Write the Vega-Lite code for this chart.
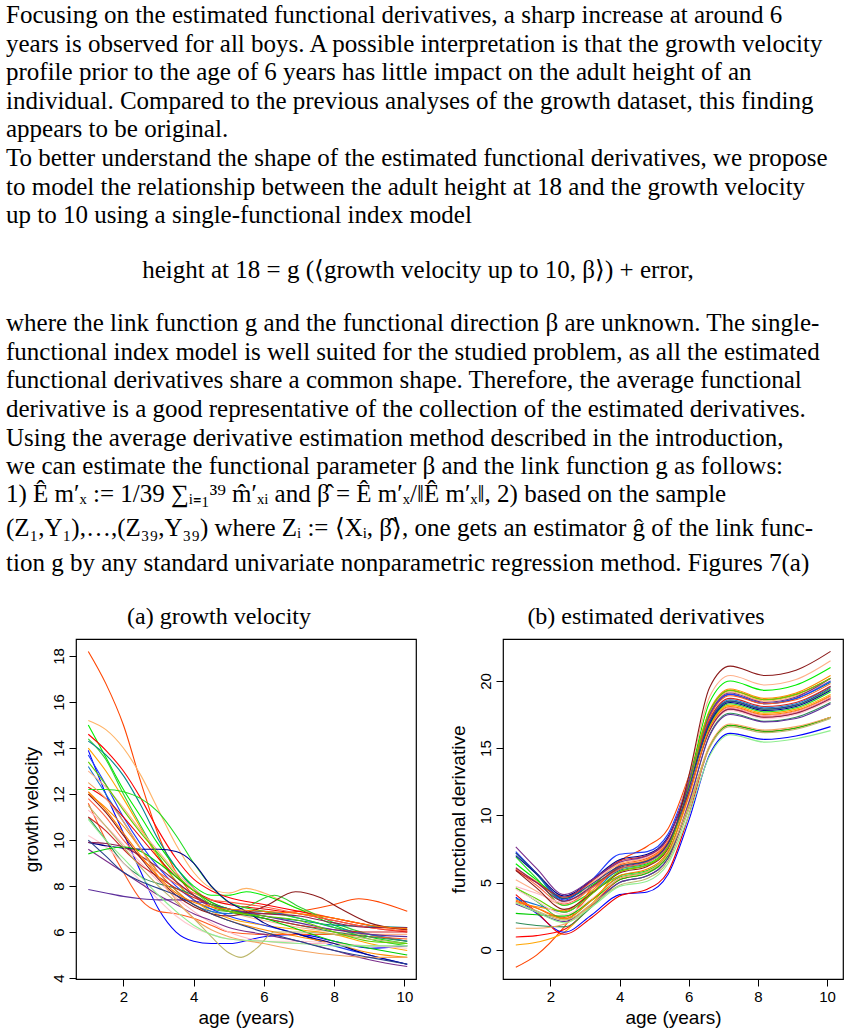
{
  "$schema": "https://vega.github.io/schema/vega-lite/v6.json",
  "background": "white",
  "padding": {"left": 6, "top": 0, "right": 0, "bottom": 0},
  "config": {
    "view": {"stroke": null},
    "axis": {"domain": false, "grid": false, "tickColor": "black", "tickSize": 7, "tickWidth": 1, "labelFont": "Liberation Sans", "labelFontSize": 15, "labelColor": "black", "titleFont": "Liberation Sans", "titleFontSize": 19, "titleFontWeight": "normal", "titleColor": "black"},
    "axisX": {"labelPadding": 3, "titlePadding": 4, "labelAngle": 0, "labelFlush": false},
    "axisY": {"labelAngle": -90, "labelAlign": "center", "labelBaseline": "bottom", "labelPadding": 3, "titlePadding": 10, "labelFlush": false},
    "title": {"font": "Liberation Serif", "fontSize": 24, "fontWeight": "normal", "color": "black", "anchor": "middle", "frame": "bounds", "offset": 10}
  },
  "datasets": {
    "page": [
      {"line": 0, "t": "Focusing on the estimated functional derivatives, a sharp increase at around 6"},
      {"line": 1, "t": "years is observed for all boys. A possible interpretation is that the growth velocity"},
      {"line": 2, "t": "profile prior to the age of 6 years has little impact on the adult height of an"},
      {"line": 3, "t": "individual. Compared to the previous analyses of the growth dataset, this finding"},
      {"line": 4, "t": "appears to be original."},
      {"line": 5, "t": "To better understand the shape of the estimated functional derivatives, we propose"},
      {"line": 6, "t": "to model the relationship between the adult height at 18 and the growth velocity"},
      {"line": 7, "t": "up to 10 using a single-functional index model"},
      {"line": 10.77, "t": "where the link function g and the functional direction β are unknown. The single-"},
      {"line": 11.78, "t": "functional index model is well suited for the studied problem, as all the estimated"},
      {"line": 12.76, "t": "functional derivatives share a common shape. Therefore, the average functional"},
      {"line": 13.78, "t": "derivative is a good representative of the collection of the estimated derivatives."},
      {"line": 14.79, "t": "Using the average derivative estimation method described in the introduction,"},
      {"line": 15.77, "t": "we can estimate the functional parameter β and the link function g as follows:"},
      {"line": 16.75, "t": "1) Ê m′ₓ := 1/39 ∑ᵢ₌₁³⁹ m̂′ₓᵢ and β̂ = Ê m′ₓ/‖Ê m′ₓ‖, 2) based on the sample"},
      {"line": 17.94, "t": "(Z₁,Y₁),…,(Z₃₉,Y₃₉) where Zᵢ := ⟨Xᵢ, β̂⟩, one gets an estimator ĝ of the link func-"},
      {"line": 19.16, "t": "tion g by any standard univariate nonparametric regression method. Figures 7(a)"}
    ],
    "eq": [
      {"line": 8.92, "t": "height at 18  =  g (⟨growth velocity up to 10, β⟩)  +  error,"}
    ],
    "gv": [
      {"c":1,"x":1,"y":18.2},{"c":1,"x":1.5,"y":16.8},{"c":1,"x":2,"y":15.0},{"c":1,"x":2.5,"y":12.5},{"c":1,"x":3,"y":10.2},{"c":1,"x":3.5,"y":8.6},{"c":1,"x":4,"y":7.6},{"c":1,"x":4.5,"y":7.1},{"c":1,"x":5,"y":6.9},{"c":1,"x":6,"y":6.8},{"c":1,"x":7,"y":6.9},{"c":1,"x":8,"y":7.2},{"c":1,"x":8.7,"y":7.45},{"c":1,"x":9.3,"y":7.3},{"c":1,"x":10.08,"y":6.9},
      {"c":2,"x":1,"y":15.2},{"c":2,"x":1.5,"y":14.8},{"c":2,"x":2,"y":14.0},{"c":2,"x":2.5,"y":12.8},{"c":2,"x":3,"y":11.3},{"c":2,"x":3.5,"y":9.8},{"c":2,"x":4,"y":8.6},{"c":2,"x":4.5,"y":7.9},{"c":2,"x":5,"y":7.7},{"c":2,"x":5.5,"y":7.9},{"c":2,"x":6,"y":7.7},{"c":2,"x":7,"y":7.0},{"c":2,"x":8,"y":6.6},{"c":2,"x":9,"y":6.3},{"c":2,"x":10.08,"y":6.0},
      {"c":3,"x":1,"y":15.0},{"c":3,"x":1.5,"y":13.6},{"c":3,"x":2,"y":12.2},{"c":3,"x":2.5,"y":11.0},{"c":3,"x":3,"y":9.8},{"c":3,"x":3.5,"y":8.8},{"c":3,"x":4,"y":8.0},{"c":3,"x":4.5,"y":7.6},{"c":3,"x":5,"y":7.6},{"c":3,"x":5.5,"y":7.75},{"c":3,"x":6,"y":7.6},{"c":3,"x":7,"y":7.0},{"c":3,"x":8,"y":6.3},{"c":3,"x":9,"y":5.8},{"c":3,"x":10.08,"y":5.5},
      {"c":4,"x":1,"y":14.6},{"c":4,"x":1.5,"y":13.9},{"c":4,"x":2,"y":13.0},{"c":4,"x":2.5,"y":11.8},{"c":4,"x":3,"y":10.4},{"c":4,"x":3.5,"y":9.2},{"c":4,"x":4,"y":8.3},{"c":4,"x":4.5,"y":7.8},{"c":4,"x":5,"y":7.5},{"c":4,"x":6,"y":7.2},{"c":4,"x":7,"y":6.9},{"c":4,"x":8,"y":6.6},{"c":4,"x":9,"y":6.3},{"c":4,"x":10.08,"y":6.1},
      {"c":5,"x":1,"y":14.4},{"c":5,"x":1.5,"y":13.5},{"c":5,"x":2,"y":12.0},{"c":5,"x":2.5,"y":10.6},{"c":5,"x":3,"y":9.3},{"c":5,"x":3.5,"y":8.2},{"c":5,"x":4,"y":7.4},{"c":5,"x":4.5,"y":7.0},{"c":5,"x":5,"y":6.9},{"c":5,"x":5.5,"y":7.1},{"c":5,"x":6.3,"y":7.6},{"c":5,"x":7,"y":7.1},{"c":5,"x":8,"y":6.4},{"c":5,"x":9,"y":5.9},{"c":5,"x":10.08,"y":5.6},
      {"c":6,"x":1,"y":14.3},{"c":6,"x":1.5,"y":13.7},{"c":6,"x":2,"y":12.8},{"c":6,"x":2.5,"y":11.5},{"c":6,"x":3,"y":10.0},{"c":6,"x":3.5,"y":8.8},{"c":6,"x":4,"y":7.9},{"c":6,"x":4.5,"y":7.3},{"c":6,"x":5,"y":7.0},{"c":6,"x":6,"y":6.7},{"c":6,"x":7,"y":6.5},{"c":6,"x":8,"y":6.3},{"c":6,"x":9,"y":6.25},{"c":6,"x":10.08,"y":6.2},
      {"c":7,"x":1,"y":14.0},{"c":7,"x":1.5,"y":13.0},{"c":7,"x":2,"y":11.8},{"c":7,"x":2.5,"y":10.5},{"c":7,"x":3,"y":9.2},{"c":7,"x":3.5,"y":8.2},{"c":7,"x":4,"y":7.4},{"c":7,"x":4.5,"y":6.9},{"c":7,"x":5,"y":6.6},{"c":7,"x":6,"y":6.3},{"c":7,"x":7,"y":6.1},{"c":7,"x":8,"y":5.9},{"c":7,"x":9,"y":5.5},{"c":7,"x":10.08,"y":5.2},
      {"c":8,"x":1,"y":13.9},{"c":8,"x":1.5,"y":12.0},{"c":8,"x":2,"y":10.3},{"c":8,"x":2.5,"y":8.6},{"c":8,"x":3,"y":7.0},{"c":8,"x":3.5,"y":6.0},{"c":8,"x":4,"y":5.6},{"c":8,"x":4.5,"y":5.5},{"c":8,"x":5,"y":5.5},{"c":8,"x":6,"y":5.8},{"c":8,"x":7,"y":5.9},{"c":8,"x":8,"y":5.6},{"c":8,"x":9,"y":5.3},{"c":8,"x":10.08,"y":5.4},
      {"c":9,"x":1,"y":13.7},{"c":9,"x":1.5,"y":12.4},{"c":9,"x":2,"y":11.0},{"c":9,"x":2.5,"y":9.8},{"c":9,"x":3,"y":8.8},{"c":9,"x":3.5,"y":8.0},{"c":9,"x":4,"y":7.4},{"c":9,"x":4.5,"y":7.0},{"c":9,"x":5,"y":6.7},{"c":9,"x":6,"y":6.3},{"c":9,"x":7,"y":5.9},{"c":9,"x":8,"y":5.4},{"c":9,"x":9,"y":5.0},{"c":9,"x":10.08,"y":4.6},
      {"c":10,"x":1,"y":13.2},{"c":10,"x":1.5,"y":12.0},{"c":10,"x":2,"y":10.8},{"c":10,"x":2.5,"y":9.6},{"c":10,"x":3,"y":8.6},{"c":10,"x":3.5,"y":7.8},{"c":10,"x":4,"y":7.2},{"c":10,"x":4.5,"y":6.9},{"c":10,"x":5,"y":6.8},{"c":10,"x":6,"y":6.9},{"c":10,"x":7,"y":6.6},{"c":10,"x":8,"y":6.2},{"c":10,"x":9,"y":5.9},{"c":10,"x":10.08,"y":5.6},
      {"c":11,"x":1,"y":13.0},{"c":11,"x":1.5,"y":12.3},{"c":11,"x":2,"y":11.4},{"c":11,"x":2.5,"y":10.4},{"c":11,"x":3,"y":9.5},{"c":11,"x":3.5,"y":8.6},{"c":11,"x":4,"y":7.9},{"c":11,"x":4.5,"y":7.3},{"c":11,"x":5,"y":6.9},{"c":11,"x":6,"y":6.5},{"c":11,"x":7,"y":6.2},{"c":11,"x":8,"y":6.0},{"c":11,"x":9,"y":5.9},{"c":11,"x":10.08,"y":5.9},
      {"c":12,"x":1,"y":12.3},{"c":12,"x":1.5,"y":11.8},{"c":12,"x":2,"y":11.0},{"c":12,"x":2.5,"y":10.1},{"c":12,"x":3,"y":9.2},{"c":12,"x":3.5,"y":8.4},{"c":12,"x":4,"y":7.8},{"c":12,"x":4.5,"y":7.4},{"c":12,"x":5,"y":7.2},{"c":12,"x":6,"y":7.0},{"c":12,"x":7,"y":6.8},{"c":12,"x":8,"y":6.5},{"c":12,"x":9,"y":6.2},{"c":12,"x":10.08,"y":6.0},
      {"c":13,"x":1,"y":12.2},{"c":13,"x":1.5,"y":12.2},{"c":13,"x":2,"y":12.1},{"c":13,"x":2.5,"y":11.8},{"c":13,"x":3,"y":11.2},{"c":13,"x":3.5,"y":10.2},{"c":13,"x":4,"y":9.0},{"c":13,"x":4.5,"y":8.0},{"c":13,"x":5,"y":7.3},{"c":13,"x":6,"y":6.9},{"c":13,"x":7,"y":6.6},{"c":13,"x":8,"y":6.2},{"c":13,"x":9,"y":5.7},{"c":13,"x":10.08,"y":5.4},
      {"c":14,"x":1,"y":12.0},{"c":14,"x":1.5,"y":11.4},{"c":14,"x":2,"y":10.6},{"c":14,"x":2.5,"y":9.6},{"c":14,"x":3,"y":8.6},{"c":14,"x":3.5,"y":7.8},{"c":14,"x":4,"y":7.2},{"c":14,"x":4.5,"y":6.8},{"c":14,"x":5,"y":6.5},{"c":14,"x":6,"y":6.1},{"c":14,"x":7,"y":5.8},{"c":14,"x":8,"y":5.5},{"c":14,"x":9,"y":5.1},{"c":14,"x":10.08,"y":4.9},
      {"c":15,"x":1,"y":11.8},{"c":15,"x":1.5,"y":11.0},{"c":15,"x":2,"y":10.0},{"c":15,"x":2.5,"y":9.2},{"c":15,"x":3,"y":8.6},{"c":15,"x":3.5,"y":8.1},{"c":15,"x":4,"y":7.7},{"c":15,"x":4.5,"y":7.4},{"c":15,"x":5,"y":7.3},{"c":15,"x":6,"y":7.1},{"c":15,"x":7,"y":6.8},{"c":15,"x":8,"y":6.5},{"c":15,"x":9,"y":6.2},{"c":15,"x":10.08,"y":6.05},
      {"c":16,"x":1,"y":11.6},{"c":16,"x":1.5,"y":10.0},{"c":16,"x":2,"y":8.6},{"c":16,"x":2.5,"y":7.4},{"c":16,"x":3,"y":6.9},{"c":16,"x":3.5,"y":6.8},{"c":16,"x":4,"y":6.6},{"c":16,"x":4.5,"y":6.3},{"c":16,"x":5,"y":6.0},{"c":16,"x":6,"y":5.9},{"c":16,"x":7,"y":5.9},{"c":16,"x":8,"y":5.9},{"c":16,"x":9,"y":5.8},{"c":16,"x":10.08,"y":5.7},
      {"c":17,"x":1,"y":11.3},{"c":17,"x":1.5,"y":10.6},{"c":17,"x":2,"y":9.8},{"c":17,"x":2.5,"y":9.0},{"c":17,"x":3,"y":8.2},{"c":17,"x":3.5,"y":7.5},{"c":17,"x":4,"y":6.9},{"c":17,"x":4.5,"y":6.4},{"c":17,"x":5,"y":6.0},{"c":17,"x":6,"y":5.6},{"c":17,"x":7,"y":5.5},{"c":17,"x":8,"y":5.5},{"c":17,"x":9,"y":5.4},{"c":17,"x":10.08,"y":5.4},
      {"c":18,"x":1,"y":11.0},{"c":18,"x":1.5,"y":10.0},{"c":18,"x":2,"y":9.0},{"c":18,"x":2.5,"y":8.4},{"c":18,"x":3,"y":8.1},{"c":18,"x":3.5,"y":7.9},{"c":18,"x":4,"y":7.6},{"c":18,"x":4.5,"y":7.2},{"c":18,"x":5,"y":6.9},{"c":18,"x":6,"y":6.6},{"c":18,"x":7,"y":6.3},{"c":18,"x":8,"y":6.0},{"c":18,"x":9,"y":5.8},{"c":18,"x":10.08,"y":5.6},
      {"c":19,"x":1,"y":11.0},{"c":19,"x":1.5,"y":10.4},{"c":19,"x":2,"y":9.6},{"c":19,"x":2.5,"y":8.9},{"c":19,"x":3,"y":8.4},{"c":19,"x":3.5,"y":7.9},{"c":19,"x":4,"y":7.5},{"c":19,"x":4.5,"y":7.2},{"c":19,"x":5,"y":7.0},{"c":19,"x":6,"y":6.6},{"c":19,"x":7,"y":6.3},{"c":19,"x":8,"y":6.1},{"c":19,"x":9,"y":6.0},{"c":19,"x":10.08,"y":6.0},
      {"c":20,"x":1,"y":10.2},{"c":20,"x":1.5,"y":9.7},{"c":20,"x":2,"y":9.0},{"c":20,"x":2.5,"y":8.2},{"c":20,"x":3,"y":7.4},{"c":20,"x":3.5,"y":6.7},{"c":20,"x":4,"y":6.2},{"c":20,"x":4.5,"y":5.9},{"c":20,"x":5,"y":5.7},{"c":20,"x":6,"y":5.6},{"c":20,"x":7,"y":5.6},{"c":20,"x":8,"y":5.5},{"c":20,"x":9,"y":5.4},{"c":20,"x":10.08,"y":5.3},
      {"c":21,"x":1,"y":9.9},{"c":21,"x":1.5,"y":9.75},{"c":21,"x":2,"y":9.65},{"c":21,"x":2.5,"y":9.6},{"c":21,"x":3,"y":9.6},{"c":21,"x":3.5,"y":9.5},{"c":21,"x":4,"y":9.0},{"c":21,"x":4.5,"y":8.0},{"c":21,"x":5,"y":7.3},{"c":21,"x":5.5,"y":6.9},{"c":21,"x":6,"y":6.4},{"c":21,"x":7,"y":5.9},{"c":21,"x":8,"y":5.5},{"c":21,"x":9,"y":5.0},{"c":21,"x":10.08,"y":4.6},
      {"c":22,"x":1,"y":9.9},{"c":22,"x":1.5,"y":9.85},{"c":22,"x":2,"y":9.7},{"c":22,"x":2.5,"y":9.3},{"c":22,"x":3,"y":8.8},{"c":22,"x":3.5,"y":8.2},{"c":22,"x":4,"y":7.6},{"c":22,"x":4.5,"y":7.2},{"c":22,"x":5,"y":7.0},{"c":22,"x":6,"y":6.8},{"c":22,"x":7,"y":6.7},{"c":22,"x":8,"y":6.4},{"c":22,"x":9,"y":6.2},{"c":22,"x":10.08,"y":6.2},
      {"c":23,"x":1,"y":9.6},{"c":23,"x":1.5,"y":9.1},{"c":23,"x":2,"y":8.6},{"c":23,"x":2.5,"y":8.1},{"c":23,"x":3,"y":7.6},{"c":23,"x":3.5,"y":7.2},{"c":23,"x":4,"y":6.8},{"c":23,"x":4.5,"y":6.5},{"c":23,"x":5,"y":6.2},{"c":23,"x":6,"y":5.9},{"c":23,"x":7,"y":5.6},{"c":23,"x":8,"y":5.2},{"c":23,"x":9,"y":4.8},{"c":23,"x":10.08,"y":4.5},
      {"c":24,"x":1,"y":9.4},{"c":24,"x":1.5,"y":9.6},{"c":24,"x":2,"y":9.7},{"c":24,"x":2.5,"y":9.5},{"c":24,"x":3,"y":9.0},{"c":24,"x":3.5,"y":8.4},{"c":24,"x":4,"y":7.8},{"c":24,"x":4.5,"y":7.3},{"c":24,"x":5,"y":7.0},{"c":24,"x":6,"y":6.6},{"c":24,"x":7,"y":6.1},{"c":24,"x":8,"y":5.6},{"c":24,"x":9,"y":5.3},{"c":24,"x":10.08,"y":5.0},
      {"c":25,"x":1,"y":7.85},{"c":25,"x":1.5,"y":7.7},{"c":25,"x":2,"y":7.55},{"c":25,"x":2.5,"y":7.45},{"c":25,"x":3,"y":7.4},{"c":25,"x":3.5,"y":7.4},{"c":25,"x":4,"y":7.35},{"c":25,"x":4.5,"y":7.2},{"c":25,"x":5,"y":7.0},{"c":25,"x":6,"y":6.7},{"c":25,"x":7,"y":6.4},{"c":25,"x":8,"y":6.1},{"c":25,"x":9,"y":5.9},{"c":25,"x":10.08,"y":5.8},
      {"c":26,"x":1,"y":11.5},{"c":26,"x":1.5,"y":10.6},{"c":26,"x":2,"y":9.7},{"c":26,"x":2.5,"y":8.8},{"c":26,"x":3,"y":8.0},{"c":26,"x":3.5,"y":7.3},{"c":26,"x":4,"y":6.6},{"c":26,"x":4.5,"y":5.8},{"c":26,"x":5,"y":5.1},{"c":26,"x":5.35,"y":4.9},{"c":26,"x":5.8,"y":5.3},{"c":26,"x":6.3,"y":6.0},{"c":26,"x":7,"y":6.0},{"c":26,"x":8,"y":5.9},{"c":26,"x":9,"y":5.7},{"c":26,"x":10.08,"y":5.5},
      {"c":27,"x":1,"y":12.0},{"c":27,"x":1.5,"y":11.2},{"c":27,"x":2,"y":10.2},{"c":27,"x":2.5,"y":9.2},{"c":27,"x":3,"y":8.3},{"c":27,"x":3.5,"y":7.6},{"c":27,"x":4,"y":7.1},{"c":27,"x":4.5,"y":6.8},{"c":27,"x":5,"y":6.7},{"c":27,"x":6,"y":7.1},{"c":27,"x":6.9,"y":7.75},{"c":27,"x":7.6,"y":7.5},{"c":27,"x":8.2,"y":7.0},{"c":27,"x":9,"y":6.4},{"c":27,"x":10.08,"y":6.1},
      {"c":28,"x":1,"y":12.5},{"c":28,"x":1.5,"y":11.8},{"c":28,"x":2,"y":10.8},{"c":28,"x":2.5,"y":9.6},{"c":28,"x":3,"y":8.4},{"c":28,"x":3.5,"y":7.4},{"c":28,"x":4,"y":6.6},{"c":28,"x":4.5,"y":6.1},{"c":28,"x":5,"y":5.8},{"c":28,"x":6,"y":5.5},{"c":28,"x":7,"y":5.2},{"c":28,"x":8,"y":5.0},{"c":28,"x":9,"y":4.9},{"c":28,"x":10.08,"y":4.9},
      {"c":29,"x":1,"y":10.9},{"c":29,"x":1.5,"y":10.0},{"c":29,"x":2,"y":9.2},{"c":29,"x":2.5,"y":8.4},{"c":29,"x":3,"y":7.6},{"c":29,"x":3.5,"y":6.9},{"c":29,"x":4,"y":6.3},{"c":29,"x":4.5,"y":5.9},{"c":29,"x":5,"y":5.7},{"c":29,"x":6,"y":5.6},{"c":29,"x":7,"y":5.5},{"c":29,"x":8,"y":5.4},{"c":29,"x":9,"y":5.4},{"c":29,"x":10.08,"y":5.4},
      {"c":30,"x":1,"y":12.1},{"c":30,"x":1.5,"y":11.3},{"c":30,"x":2,"y":10.3},{"c":30,"x":2.5,"y":9.3},{"c":30,"x":3,"y":8.4},{"c":30,"x":3.5,"y":7.7},{"c":30,"x":4,"y":7.3},{"c":30,"x":4.5,"y":7.1},{"c":30,"x":5,"y":7.0},{"c":30,"x":6,"y":6.9},{"c":30,"x":7,"y":6.8},{"c":30,"x":8,"y":6.6},{"c":30,"x":9,"y":6.3},{"c":30,"x":10.08,"y":6.15},
      {"c":31,"x":1,"y":13.4},{"c":31,"x":1.5,"y":12.4},{"c":31,"x":2,"y":11.3},{"c":31,"x":2.5,"y":10.3},{"c":31,"x":3,"y":9.4},{"c":31,"x":3.5,"y":8.5},{"c":31,"x":4,"y":7.8},{"c":31,"x":4.5,"y":7.2},{"c":31,"x":5,"y":6.9},{"c":31,"x":6,"y":6.7},{"c":31,"x":7,"y":6.5},{"c":31,"x":8,"y":6.0},{"c":31,"x":9,"y":5.6},{"c":31,"x":10.08,"y":5.5},
      {"c":32,"x":1,"y":10.0},{"c":32,"x":1.5,"y":9.3},{"c":32,"x":2,"y":8.6},{"c":32,"x":2.5,"y":8.2},{"c":32,"x":3,"y":7.9},{"c":32,"x":3.5,"y":7.6},{"c":32,"x":4,"y":7.2},{"c":32,"x":4.5,"y":6.8},{"c":32,"x":5,"y":6.5},{"c":32,"x":6,"y":6.0},{"c":32,"x":7,"y":5.6},{"c":32,"x":8,"y":5.2},{"c":32,"x":9,"y":4.9},{"c":32,"x":10.08,"y":4.6}
    ],
    "fd": [
      {"c":1,"x":1,"y":-1.3},{"c":1,"x":1.6,"y":-0.4},{"c":1,"x":2.4,"y":1.7},{"c":1,"x":3.2,"y":4.6},{"c":1,"x":4,"y":6.6},{"c":1,"x":4.8,"y":7.7},{"c":1,"x":5.4,"y":9.0},{"c":1,"x":6,"y":12.9},{"c":1,"x":6.6,"y":17.7},{"c":1,"x":7.2,"y":19.3},{"c":1,"x":8.2,"y":18.6},{"c":1,"x":9.1,"y":19.0},{"c":1,"x":10.1,"y":20.2},
      {"c":2,"x":1,"y":6.0},{"c":2,"x":1.6,"y":5.1},{"c":2,"x":2.4,"y":3.9},{"c":2,"x":3.2,"y":5.0},{"c":2,"x":4,"y":6.4},{"c":2,"x":4.8,"y":6.9},{"c":2,"x":5.4,"y":8.2},{"c":2,"x":6,"y":12.4},{"c":2,"x":6.6,"y":17.6},{"c":2,"x":7.2,"y":19.2},{"c":2,"x":8.2,"y":18.5},{"c":2,"x":9.1,"y":18.9},{"c":2,"x":10.1,"y":20.0},
      {"c":3,"x":1,"y":6.4},{"c":3,"x":1.6,"y":5.2},{"c":3,"x":2.4,"y":3.8},{"c":3,"x":3.2,"y":4.8},{"c":3,"x":4,"y":6.0},{"c":3,"x":4.8,"y":6.4},{"c":3,"x":5.4,"y":7.7},{"c":3,"x":6,"y":12.5},{"c":3,"x":6.6,"y":18.4},{"c":3,"x":7.2,"y":20.0},{"c":3,"x":8.2,"y":19.3},{"c":3,"x":9.1,"y":19.7},{"c":3,"x":10.1,"y":21.0},
      {"c":4,"x":1,"y":0.95},{"c":4,"x":1.6,"y":1.05},{"c":4,"x":2.4,"y":1.5},{"c":4,"x":3.2,"y":3.3},{"c":4,"x":4,"y":5.2},{"c":4,"x":4.8,"y":5.7},{"c":4,"x":5.4,"y":7.0},{"c":4,"x":6,"y":11.2},{"c":4,"x":6.6,"y":16.4},{"c":4,"x":7.2,"y":18.0},{"c":4,"x":8.2,"y":17.4},{"c":4,"x":9.1,"y":17.7},{"c":4,"x":10.1,"y":18.8},
      {"c":5,"x":1,"y":4.6},{"c":5,"x":1.6,"y":3.6},{"c":5,"x":2.4,"y":2.3},{"c":5,"x":3.2,"y":3.7},{"c":5,"x":4,"y":5.4},{"c":5,"x":4.8,"y":5.8},{"c":5,"x":5.4,"y":7.1},{"c":5,"x":6,"y":11.5},{"c":5,"x":6.6,"y":16.9},{"c":5,"x":7.2,"y":18.5},{"c":5,"x":8.2,"y":17.9},{"c":5,"x":9.1,"y":18.2},{"c":5,"x":10.1,"y":19.4},
      {"c":6,"x":1,"y":7.2},{"c":6,"x":1.6,"y":5.6},{"c":6,"x":2.4,"y":3.6},{"c":6,"x":3.2,"y":4.6},{"c":6,"x":4,"y":5.9},{"c":6,"x":4.8,"y":6.3},{"c":6,"x":5.4,"y":7.6},{"c":6,"x":6,"y":12.0},{"c":6,"x":6.6,"y":17.4},{"c":6,"x":7.2,"y":19.0},{"c":6,"x":8.2,"y":18.3},{"c":6,"x":9.1,"y":18.7},{"c":6,"x":10.1,"y":19.9},
      {"c":7,"x":1,"y":0.35},{"c":7,"x":1.6,"y":0.55},{"c":7,"x":2.4,"y":1.3},{"c":7,"x":3.2,"y":3.4},{"c":7,"x":4,"y":5.8},{"c":7,"x":4.8,"y":6.3},{"c":7,"x":5.4,"y":7.6},{"c":7,"x":6,"y":11.7},{"c":7,"x":6.6,"y":16.6},{"c":7,"x":7.2,"y":18.2},{"c":7,"x":8.2,"y":17.6},{"c":7,"x":9.1,"y":17.9},{"c":7,"x":10.1,"y":19.0},
      {"c":8,"x":1,"y":3.9},{"c":8,"x":1.6,"y":2.7},{"c":8,"x":2.4,"y":1.3},{"c":8,"x":3.2,"y":2.6},{"c":8,"x":4,"y":4.1},{"c":8,"x":4.8,"y":4.3},{"c":8,"x":5.4,"y":5.6},{"c":8,"x":6,"y":9.6},{"c":8,"x":6.6,"y":14.5},{"c":8,"x":7.2,"y":16.1},{"c":8,"x":8.2,"y":15.65},{"c":8,"x":9.1,"y":15.9},{"c":8,"x":10.1,"y":16.6},
      {"c":9,"x":1,"y":7.3},{"c":9,"x":1.6,"y":5.7},{"c":9,"x":2.4,"y":3.7},{"c":9,"x":3.2,"y":5.2},{"c":9,"x":4,"y":7.1},{"c":9,"x":4.8,"y":7.3},{"c":9,"x":5.4,"y":8.6},{"c":9,"x":6,"y":12.6},{"c":9,"x":6.6,"y":17.4},{"c":9,"x":7.2,"y":19.0},{"c":9,"x":8.2,"y":18.3},{"c":9,"x":9.1,"y":18.7},{"c":9,"x":10.1,"y":20.0},
      {"c":10,"x":1,"y":3.8},{"c":10,"x":1.6,"y":3.35},{"c":10,"x":2.4,"y":2.8},{"c":10,"x":3.2,"y":4.2},{"c":10,"x":4,"y":6.0},{"c":10,"x":4.8,"y":6.5},{"c":10,"x":5.4,"y":7.8},{"c":10,"x":6,"y":11.9},{"c":10,"x":6.6,"y":17.0},{"c":10,"x":7.2,"y":18.6},{"c":10,"x":8.2,"y":18.0},{"c":10,"x":9.1,"y":18.3},{"c":10,"x":10.1,"y":19.6},
      {"c":11,"x":1,"y":5.2},{"c":11,"x":1.6,"y":4.35},{"c":11,"x":2.4,"y":3.3},{"c":11,"x":3.2,"y":4.6},{"c":11,"x":4,"y":6.2},{"c":11,"x":4.8,"y":6.7},{"c":11,"x":5.4,"y":8.0},{"c":11,"x":6,"y":12.9},{"c":11,"x":6.6,"y":18.8},{"c":11,"x":7.2,"y":20.4},{"c":11,"x":8.2,"y":19.7},{"c":11,"x":9.1,"y":20.1},{"c":11,"x":10.1,"y":21.5},
      {"c":12,"x":1,"y":4.1},{"c":12,"x":1.6,"y":2.8},{"c":12,"x":2.4,"y":1.15},{"c":12,"x":3.2,"y":2.4},{"c":12,"x":4,"y":4.0},{"c":12,"x":4.8,"y":4.5},{"c":12,"x":5.4,"y":5.8},{"c":12,"x":6,"y":10.0},{"c":12,"x":6.6,"y":15.1},{"c":12,"x":7.2,"y":16.7},{"c":12,"x":8.2,"y":16.25},{"c":12,"x":9.1,"y":16.5},{"c":12,"x":10.1,"y":17.3},
      {"c":13,"x":1,"y":6.9},{"c":13,"x":1.6,"y":5.3},{"c":13,"x":2.4,"y":3.3},{"c":13,"x":3.2,"y":4.3},{"c":13,"x":4,"y":5.5},{"c":13,"x":4.8,"y":5.9},{"c":13,"x":5.4,"y":7.2},{"c":13,"x":6,"y":11.5},{"c":13,"x":6.6,"y":16.7},{"c":13,"x":7.2,"y":18.3},{"c":13,"x":8.2,"y":17.7},{"c":13,"x":9.1,"y":18.0},{"c":13,"x":10.1,"y":19.2},
      {"c":14,"x":1,"y":3.5},{"c":14,"x":1.6,"y":3.2},{"c":14,"x":2.4,"y":2.9},{"c":14,"x":3.2,"y":4.4},{"c":14,"x":4,"y":6.2},{"c":14,"x":4.8,"y":6.7},{"c":14,"x":5.4,"y":8.0},{"c":14,"x":6,"y":12.4},{"c":14,"x":6.6,"y":17.8},{"c":14,"x":7.2,"y":19.4},{"c":14,"x":8.2,"y":18.7},{"c":14,"x":9.1,"y":19.1},{"c":14,"x":10.1,"y":20.4},
      {"c":15,"x":1,"y":6.0},{"c":15,"x":1.6,"y":4.8},{"c":15,"x":2.4,"y":3.4},{"c":15,"x":3.2,"y":4.6},{"c":15,"x":4,"y":6.0},{"c":15,"x":4.8,"y":6.5},{"c":15,"x":5.4,"y":7.8},{"c":15,"x":6,"y":11.6},{"c":15,"x":6.6,"y":16.3},{"c":15,"x":7.2,"y":17.9},{"c":15,"x":8.2,"y":17.3},{"c":15,"x":9.1,"y":17.6},{"c":15,"x":10.1,"y":18.6},
      {"c":16,"x":1,"y":3.6},{"c":16,"x":1.6,"y":3.1},{"c":16,"x":2.4,"y":2.4},{"c":16,"x":3.2,"y":4.2},{"c":16,"x":4,"y":6.3},{"c":16,"x":4.8,"y":6.8},{"c":16,"x":5.4,"y":8.1},{"c":16,"x":6,"y":12.2},{"c":16,"x":6.6,"y":17.3},{"c":16,"x":7.2,"y":18.9},{"c":16,"x":8.2,"y":18.3},{"c":16,"x":9.1,"y":18.6},{"c":16,"x":10.1,"y":19.8},
      {"c":17,"x":1,"y":4.7},{"c":17,"x":1.6,"y":4.2},{"c":17,"x":2.4,"y":3.5},{"c":17,"x":3.2,"y":4.9},{"c":17,"x":4,"y":6.5},{"c":17,"x":4.8,"y":6.9},{"c":17,"x":5.4,"y":8.2},{"c":17,"x":6,"y":11.9},{"c":17,"x":6.6,"y":16.4},{"c":17,"x":7.2,"y":18.0},{"c":17,"x":8.2,"y":17.4},{"c":17,"x":9.1,"y":17.7},{"c":17,"x":10.1,"y":18.8},
      {"c":18,"x":1,"y":2.0},{"c":18,"x":1.6,"y":1.8},{"c":18,"x":2.4,"y":1.7},{"c":18,"x":3.2,"y":3.2},{"c":18,"x":4,"y":5.0},{"c":18,"x":4.8,"y":5.5},{"c":18,"x":5.4,"y":6.8},{"c":18,"x":6,"y":10.9},{"c":18,"x":6.6,"y":16.0},{"c":18,"x":7.2,"y":17.6},{"c":18,"x":8.2,"y":17.0},{"c":18,"x":9.1,"y":17.3},{"c":18,"x":10.1,"y":18.4},
      {"c":19,"x":1,"y":5.9},{"c":19,"x":1.6,"y":5.0},{"c":19,"x":2.4,"y":3.9},{"c":19,"x":3.2,"y":5.1},{"c":19,"x":4,"y":6.6},{"c":19,"x":4.8,"y":7.0},{"c":19,"x":5.4,"y":8.3},{"c":19,"x":6,"y":12.3},{"c":19,"x":6.6,"y":17.1},{"c":19,"x":7.2,"y":18.7},{"c":19,"x":8.2,"y":18.1},{"c":19,"x":9.1,"y":18.4},{"c":19,"x":10.1,"y":19.6},
      {"c":20,"x":1,"y":4.5},{"c":20,"x":1.6,"y":3.65},{"c":20,"x":2.4,"y":2.6},{"c":20,"x":3.2,"y":3.8},{"c":20,"x":4,"y":5.3},{"c":20,"x":4.8,"y":5.7},{"c":20,"x":5.4,"y":7.0},{"c":20,"x":6,"y":11.2},{"c":20,"x":6.6,"y":16.2},{"c":20,"x":7.2,"y":17.8},{"c":20,"x":8.2,"y":17.2},{"c":20,"x":9.1,"y":17.5},{"c":20,"x":10.1,"y":18.6},
      {"c":21,"x":1,"y":7.0},{"c":21,"x":1.6,"y":5.65},{"c":21,"x":2.4,"y":4.0},{"c":21,"x":3.2,"y":5.2},{"c":21,"x":4,"y":6.7},{"c":21,"x":4.8,"y":7.1},{"c":21,"x":5.4,"y":8.4},{"c":21,"x":6,"y":12.2},{"c":21,"x":6.6,"y":16.8},{"c":21,"x":7.2,"y":18.4},{"c":21,"x":8.2,"y":17.8},{"c":21,"x":9.1,"y":18.1},{"c":21,"x":10.1,"y":19.3},
      {"c":22,"x":1,"y":6.1},{"c":22,"x":1.6,"y":5.0},{"c":22,"x":2.4,"y":3.6},{"c":22,"x":3.2,"y":4.7},{"c":22,"x":4,"y":6.1},{"c":22,"x":4.8,"y":6.6},{"c":22,"x":5.4,"y":7.9},{"c":22,"x":6,"y":11.7},{"c":22,"x":6.6,"y":16.3},{"c":22,"x":7.2,"y":17.9},{"c":22,"x":8.2,"y":17.3},{"c":22,"x":9.1,"y":17.6},{"c":22,"x":10.1,"y":18.7},
      {"c":23,"x":1,"y":7.65},{"c":23,"x":1.6,"y":6.05},{"c":23,"x":2.4,"y":4.1},{"c":23,"x":3.2,"y":5.2},{"c":23,"x":4,"y":6.5},{"c":23,"x":4.8,"y":7.0},{"c":23,"x":5.4,"y":8.3},{"c":23,"x":6,"y":12.4},{"c":23,"x":6.6,"y":17.5},{"c":23,"x":7.2,"y":19.1},{"c":23,"x":8.2,"y":18.4},{"c":23,"x":9.1,"y":18.8},{"c":23,"x":10.1,"y":20.2},
      {"c":24,"x":1,"y":2.7},{"c":24,"x":1.6,"y":2.6},{"c":24,"x":2.4,"y":2.5},{"c":24,"x":3.2,"y":3.7},{"c":24,"x":4,"y":5.2},{"c":24,"x":4.8,"y":5.7},{"c":24,"x":5.4,"y":7.0},{"c":24,"x":6,"y":10.65},{"c":24,"x":6.6,"y":15.1},{"c":24,"x":7.2,"y":16.7},{"c":24,"x":8.2,"y":16.25},{"c":24,"x":9.1,"y":16.5},{"c":24,"x":10.1,"y":17.3},
      {"c":25,"x":1,"y":3.4},{"c":25,"x":1.6,"y":2.8},{"c":25,"x":2.4,"y":2.1},{"c":25,"x":3.2,"y":3.4},{"c":25,"x":4,"y":5.0},{"c":25,"x":4.8,"y":5.5},{"c":25,"x":5.4,"y":6.8},{"c":25,"x":6,"y":10.9},{"c":25,"x":6.6,"y":15.9},{"c":25,"x":7.2,"y":17.5},{"c":25,"x":8.2,"y":16.95},{"c":25,"x":9.1,"y":17.2},{"c":25,"x":10.1,"y":18.3},
      {"c":26,"x":1,"y":3.5},{"c":26,"x":1.6,"y":2.9},{"c":26,"x":2.4,"y":2.2},{"c":26,"x":3.2,"y":3.4},{"c":26,"x":4,"y":4.8},{"c":26,"x":4.8,"y":5.3},{"c":26,"x":5.4,"y":6.6},{"c":26,"x":6,"y":10.4},{"c":26,"x":6.6,"y":15.0},{"c":26,"x":7.2,"y":16.6},{"c":26,"x":8.2,"y":16.15},{"c":26,"x":9.1,"y":16.4},{"c":26,"x":10.1,"y":17.2},
      {"c":27,"x":1,"y":5.9},{"c":27,"x":1.6,"y":4.6},{"c":27,"x":2.4,"y":3.0},{"c":27,"x":3.2,"y":4.2},{"c":27,"x":4,"y":5.7},{"c":27,"x":4.8,"y":6.2},{"c":27,"x":5.4,"y":7.5},{"c":27,"x":6,"y":12.9},{"c":27,"x":6.6,"y":19.5},{"c":27,"x":7.2,"y":21.1},{"c":27,"x":8.2,"y":20.4},{"c":27,"x":9.1,"y":20.8},{"c":27,"x":10.1,"y":22.2},
      {"c":28,"x":1,"y":1.6},{"c":28,"x":1.6,"y":1.6},{"c":28,"x":2.4,"y":1.9},{"c":28,"x":3.2,"y":3.4},{"c":28,"x":4,"y":5.3},{"c":28,"x":4.8,"y":5.8},{"c":28,"x":5.4,"y":7.1},{"c":28,"x":6,"y":10.7},{"c":28,"x":6.6,"y":15.2},{"c":28,"x":7.2,"y":16.8},{"c":28,"x":8.2,"y":16.35},{"c":28,"x":9.1,"y":16.6},{"c":28,"x":10.1,"y":17.3},
      {"c":29,"x":1,"y":3.5},{"c":29,"x":1.6,"y":2.8},{"c":29,"x":2.4,"y":2.0},{"c":29,"x":3.2,"y":3.2},{"c":29,"x":4,"y":4.7},{"c":29,"x":4.8,"y":5.1},{"c":29,"x":5.4,"y":6.4},{"c":29,"x":6,"y":10.0},{"c":29,"x":6.6,"y":14.4},{"c":29,"x":7.2,"y":16.0},{"c":29,"x":8.2,"y":15.45},{"c":29,"x":9.1,"y":15.7},{"c":29,"x":10.1,"y":16.3},
      {"c":30,"x":1,"y":3.7},{"c":30,"x":1.6,"y":3.1},{"c":30,"x":2.4,"y":2.3},{"c":30,"x":3.2,"y":3.7},{"c":30,"x":4,"y":5.5},{"c":30,"x":4.8,"y":6.0},{"c":30,"x":5.4,"y":7.3},{"c":30,"x":6,"y":11.45},{"c":30,"x":6.6,"y":16.5},{"c":30,"x":7.2,"y":18.1},{"c":30,"x":8.2,"y":17.5},{"c":30,"x":9.1,"y":17.8},{"c":30,"x":10.1,"y":18.9},
      {"c":31,"x":1,"y":4.6},{"c":31,"x":1.6,"y":3.8},{"c":31,"x":2.4,"y":2.8},{"c":31,"x":3.2,"y":4.15},{"c":31,"x":4,"y":5.8},{"c":31,"x":4.8,"y":6.3},{"c":31,"x":5.4,"y":7.6},{"c":31,"x":6,"y":12.15},{"c":31,"x":6.6,"y":17.7},{"c":31,"x":7.2,"y":19.3},{"c":31,"x":8.2,"y":18.6},{"c":31,"x":9.1,"y":19.0},{"c":31,"x":10.1,"y":20.2},
      {"c":32,"x":1,"y":7.2},{"c":32,"x":1.6,"y":5.7},{"c":32,"x":2.4,"y":3.8},{"c":32,"x":3.2,"y":4.9},{"c":32,"x":4,"y":6.2},{"c":32,"x":4.8,"y":6.6},{"c":32,"x":5.4,"y":7.9},{"c":32,"x":6,"y":11.95},{"c":32,"x":6.6,"y":16.9},{"c":32,"x":7.2,"y":18.5},{"c":32,"x":8.2,"y":17.9},{"c":32,"x":9.1,"y":18.2},{"c":32,"x":10.1,"y":19.5}
    ]
  },
  "bounds": "flush",
  "spacing": 59,
  "vconcat": [
    {
      "width": 767,
      "height": 580,
      "layer": [
        {
          "data": {"name": "page"},
          "mark": {"type": "text", "align": "left", "baseline": "middle", "font": "Liberation Serif", "fontSize": 25, "color": "black"},
          "encoding": {
            "x": {"datum": 0, "type": "quantitative", "scale": {"domain": [70, 837], "nice": false, "zero": false}, "axis": null},
            "y": {"field": "line", "type": "quantitative", "scale": {"domain": [-0.524, 19.755], "reverse": true, "nice": false, "zero": false}, "axis": null},
            "text": {"field": "t"}
          }
        },
        {
          "data": {"name": "eq"},
          "mark": {"type": "text", "align": "center", "baseline": "middle", "font": "Liberation Serif", "fontSize": 25, "color": "black"},
          "encoding": {
            "x": {"datum": 412, "type": "quantitative"},
            "y": {"field": "line", "type": "quantitative"},
            "text": {"field": "t"}
          }
        }
      ]
    },
    {
      "bounds": "flush",
      "spacing": 87,
      "hconcat": [
        {
          "width": 340,
          "height": 340,
          "view": {"stroke": "black", "strokeWidth": 1.2},
          "title": {"text": "(a) growth velocity"},
          "data": {"name": "gv"},
          "mark": {"type": "line", "interpolate": "monotone", "strokeWidth": 1.1},
          "encoding": {
            "x": {"field": "x", "type": "quantitative", "scale": {"domain": [0.65, 10.33], "nice": false, "zero": false}, "axis": {"values": [2, 4, 6, 8, 10], "title": "age (years)"}},
            "y": {"field": "y", "type": "quantitative", "scale": {"domain": [3.96, 18.74], "nice": false, "zero": false}, "axis": {"values": [4, 6, 8, 10, 12, 14, 16, 18], "title": "growth velocity"}},
            "color": {"field": "c", "type": "nominal", "legend": null, "scale": {"domain": [1,2,3,4,5,6,7,8,9,10,11,12,13,14,15,16,17,18,19,20,21,22,23,24,25,26,27,28,29,30,31,32], "range": ["#FF4500","#FFB366","#00EE00","#FF0000","#32CD32","#00868B","#FFA500","#0000FF","#1E3CFF","#1874CD","#FFB08A","#EE0000","#22DD22","#FF8C00","#FF6347","#FF5A1F","#FFB6C1","#2E8B57","#CD2626","#FFC8CF","#00008B","#8B2252","#7B2D8B","#00CD00","#5D2E9B","#BDB76B","#8B1A1A","#F4A460","#90EE90","#FF7F00","#66CD00","#27408B"]}}
          }
        },
        {
          "width": 340,
          "height": 340,
          "view": {"stroke": "black", "strokeWidth": 1.2},
          "title": {"text": "(b) estimated derivatives"},
          "data": {"name": "fd"},
          "mark": {"type": "line", "interpolate": "monotone", "strokeWidth": 1.1},
          "encoding": {
            "x": {"field": "x", "type": "quantitative", "scale": {"domain": [0.63, 10.46], "nice": false, "zero": false}, "axis": {"values": [2, 4, 6, 8, 10], "title": "age (years)"}},
            "y": {"field": "y", "type": "quantitative", "scale": {"domain": [-2.18, 23.12], "nice": false, "zero": false}, "axis": {"values": [0, 5, 10, 15, 20], "title": "functional derivative"}},
            "color": {"field": "c", "type": "nominal", "legend": null, "scale": {"domain": [1,2,3,4,5,6,7,8,9,10,11,12,13,14,15,16,17,18,19,20,21,22,23,24,25,26,27,28,29,30,31,32], "range": ["#FF4500","#FFB366","#00EE00","#FF0000","#32CD32","#00868B","#FFA500","#0000FF","#1E3CFF","#1874CD","#FFB08A","#EE0000","#22DD22","#FF8C00","#FF6347","#FF5A1F","#FFB6C1","#2E8B57","#CD2626","#FFC8CF","#00008B","#8B2252","#7B2D8B","#00CD00","#5D2E9B","#BDB76B","#8B1A1A","#F4A460","#90EE90","#FF7F00","#66CD00","#27408B"]}}
          }
        }
      ]
    }
  ]
}
